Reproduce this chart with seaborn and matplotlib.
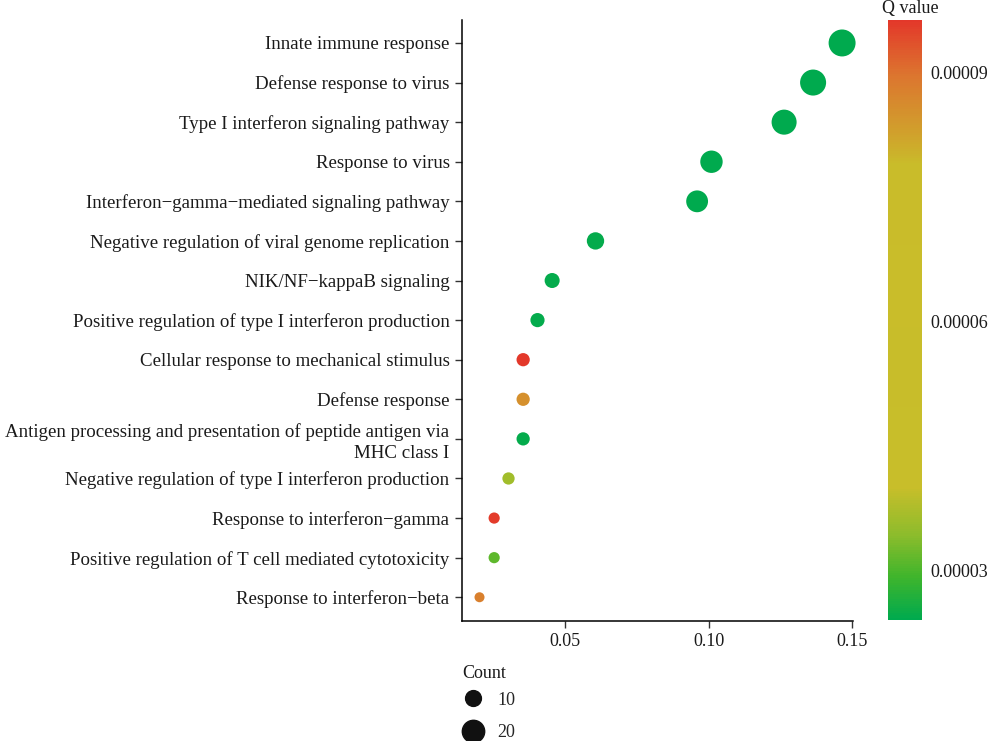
import numpy as np
import pandas as pd
import matplotlib
matplotlib.use("Agg")
import matplotlib.pyplot as plt
import seaborn as sns
from matplotlib.colors import LinearSegmentedColormap, Normalize
from matplotlib.lines import Line2D

terms = [
    "Innate immune response",
    "Defense response to virus",
    "Type I interferon signaling pathway",
    "Response to virus",
    "Interferon\u2212gamma\u2212mediated signaling pathway",
    "Negative regulation of viral genome replication",
    "NIK/NF\u2212kappaB signaling",
    "Positive regulation of type I interferon production",
    "Cellular response to mechanical stimulus",
    "Defense response",
    "Antigen processing and presentation of peptide antigen via\nMHC class I",
    "Negative regulation of type I interferon production",
    "Response to interferon\u2212gamma",
    "Positive regulation of T cell mediated cytotoxicity",
    "Response to interferon\u2212beta",
]
ratio = [0.1465, 0.1364, 0.1263, 0.1010, 0.0960, 0.0606, 0.0455, 0.0404,
         0.0354, 0.0354, 0.0354, 0.0303, 0.0253, 0.0253, 0.0202]
count = [29, 27, 25, 20, 19, 12, 9, 8, 7, 7, 7, 6, 5, 5, 4]
qvalue = [0.0000241, 0.0000242, 0.0000242, 0.0000243, 0.0000243, 0.0000244,
          0.0000244, 0.0000245, 0.0000963, 0.0000855, 0.0000245, 0.0000365,
          0.0000960, 0.0000313, 0.0000880]
legend_counts = [10, 20]

df = pd.DataFrame({"term": terms, "ratio": ratio, "Count": count, "Q": qvalue})

sns.set_style("white")
plt.rcParams["font.family"] = ["Liberation Serif", "DejaVu Serif"]

cmap = LinearSegmentedColormap.from_list("qv", [
    (0.0, "#00AA4E"),
    (0.07, "#3FB52C"),
    (0.14, "#8CBC2C"),
    (0.22, "#C8BE2A"),
    (0.76, "#C9BC2A"),
    (0.81, "#D0A22C"),
    (0.91, "#DC752F"),
    (1.0, "#E3382A"),
])
vmin, vmax = 0.0000241, 0.0000963
norm = Normalize(vmin=vmin, vmax=vmax)

fig = plt.figure(figsize=(9.98, 7.41), dpi=100)
ax = fig.add_axes([462/998, 1-621/741, (853-462)/998, (621-20)/741])

sns.scatterplot(data=df, x="ratio", y="term", hue="Q", palette=cmap, hue_norm=norm,
                size="Count", sizes=(52, 377), size_norm=(4, 29),
                linewidth=0, legend=False, ax=ax, zorder=3, clip_on=False)

ax.set_xlim(0.0141, 0.1503)
ax.set_ylim(len(terms) - 0.4, -0.58)
ax.set_xticks([0.05, 0.10, 0.15])
ax.set_xticklabels(["0.05", "0.10", "0.15"])
ax.set_xlabel("")
ax.set_ylabel("")
for s in ["top", "right"]:
    ax.spines[s].set_visible(False)
for s in ["left", "bottom"]:
    ax.spines[s].set_color("black")
    ax.spines[s].set_linewidth(1.1)
ax.tick_params(axis="both", direction="out", length=5, width=1, color="#333333",
               labelcolor="#1a1a1a", pad=4)
ax.tick_params(axis="y", left=True, labelsize=13.6)
ax.tick_params(axis="x", bottom=True, labelsize=13)
for lab in ax.get_yticklabels():
    lab.set_linespacing(1.25)

# colorbar
cax = fig.add_axes([888/998, 1-620/741, 34/998, 600/741])
sm = plt.cm.ScalarMappable(cmap=cmap, norm=norm)
cb = fig.colorbar(sm, cax=cax)
cb.outline.set_visible(False)
cb.set_ticks([0.00003, 0.00006, 0.00009])
cb.set_ticklabels(["0.00003", "0.00006", "0.00009"])
cax.tick_params(direction="in", length=6, width=1, color="white", left=True, right=True,
                labelsize=13, labelcolor="#1a1a1a", pad=6)
fig.text(910/998, 1-9/741, "Q value", ha="center", va="center", fontsize=13, color="#1a1a1a")

# size legend
fig.text(462/998, 1-674/741, "Count", ha="left", va="center", fontsize=13, color="#1a1a1a")
handles = [Line2D([], [], marker="o", linestyle="", color="#111111",
                  markersize=np.sqrt(c * 13), label=str(c)) for c in legend_counts]
leg = fig.legend(handles=handles, loc="upper left",
                 bbox_to_anchor=(456/998, 1-688/741), frameon=False,
                 fontsize=13, handletextpad=0.6,
                 labelspacing=0.85, borderaxespad=0, borderpad=0.2, handlelength=1.5)

fig.savefig("out.png", dpi=100)
